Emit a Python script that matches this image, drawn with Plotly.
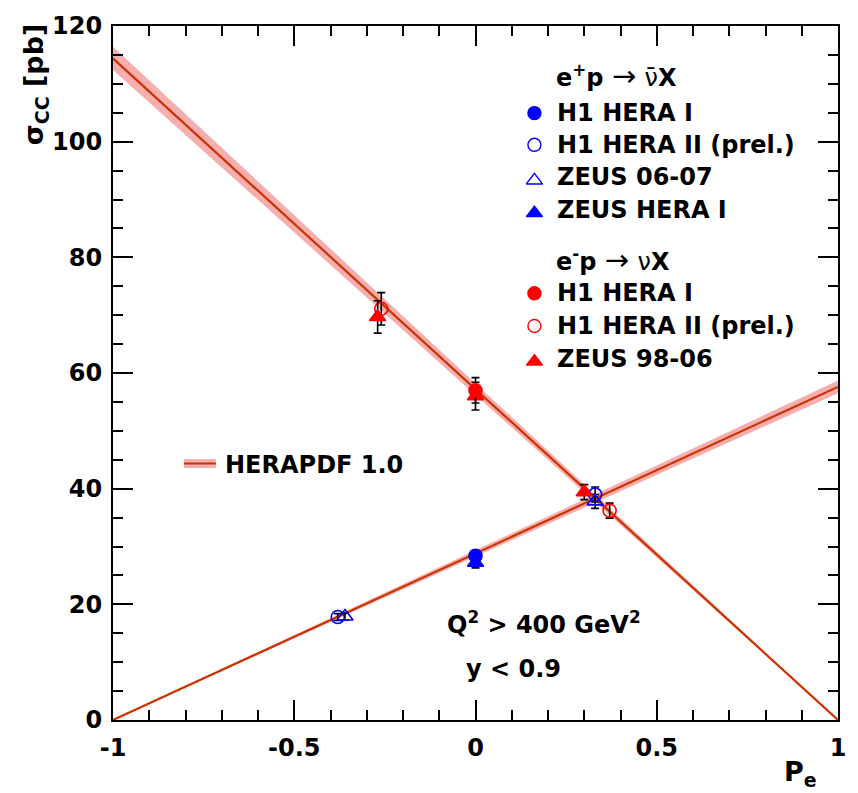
import plotly.graph_objects as go

# ---- HERAPDF 1.0 prediction (straight lines in P_e), end points and band half-widths
pdf_P = [-1.0, 1.0]
pdf_em = [114.4, 0.0]        # e- p -> nu X
pdf_em_err = [2.0, 0.0]
pdf_ep = [0.0, 57.6]         # e+ p -> nubar X
pdf_ep_err = [0.0, 1.1]

# ---- e+ p measurements
ep_h1_1_P, ep_h1_1_s, ep_h1_1_e = [0.0], [28.4], [0.9]
ep_h1_2_P, ep_h1_2_s, ep_h1_2_e = [-0.38, 0.33], [17.8, 39.0], [0.6, 1.3]
ep_zeus_0607_P, ep_zeus_0607_s, ep_zeus_0607_e = [-0.36, 0.33], [17.9, 37.8], [0.6, 1.2]
ep_zeus_1_P, ep_zeus_1_s, ep_zeus_1_e = [0.0], [27.2], [0.9]

# ---- e- p measurements
em_h1_1_P, em_h1_1_s, em_h1_1_e = [0.0], [57.0], [2.2]
em_h1_2_P, em_h1_2_s, em_h1_2_e = [-0.26, 0.37], [71.1, 36.2], [2.8, 1.3]
em_zeus_P, em_zeus_s, em_zeus_e = [-0.27, 0.0, 0.30], [69.7, 56.0, 39.4], [2.8, 2.4, 1.3]

x_ticks = [-1, -0.5, 0, 0.5, 1]
x_ticklabels = ["-1", "-0.5", "0", "0.5", "1"]
y_ticks = [0, 20, 40, 60, 80, 100, 120]

BLUE = "#0000ff"
RED = "#ff0000"
LINE = "#cc3300"
BAND = "rgba(240,120,120,0.6)"
FONT = "DejaVu Sans"

W, H = 858, 793
L, R, T, B = 113, 839, 19, 720


def fx(px):
    return (px - L) / (R - L)


def fy(py):
    return (B - py) / (B - T)


fig = go.Figure()


def band(P, c, e):
    xs = list(P) + list(P)[::-1]
    ys = [v + d for v, d in zip(c, e)] + [v - d for v, d in zip(c, e)][::-1]
    fig.add_trace(go.Scatter(x=xs, y=ys, fill="toself", fillcolor=BAND,
                             line=dict(width=0), mode="lines",
                             hoverinfo="skip", showlegend=False))
    fig.add_trace(go.Scatter(x=P, y=c, mode="lines",
                             line=dict(color=LINE, width=2.2),
                             showlegend=False))


band(pdf_P, pdf_em, pdf_em_err)
band(pdf_P, pdf_ep, pdf_ep_err)


def points(P, s, e, symbol, color, size):
    fig.add_trace(go.Scatter(
        x=P, y=s, mode="markers",
        marker=dict(symbol=symbol, color=color, size=size,
                    line=dict(color=color, width=1.6)),
        error_y=dict(type="data", array=e, color="black",
                     thickness=1.6, width=4),
        showlegend=False))


points(ep_h1_2_P, ep_h1_2_s, ep_h1_2_e, "circle-open", BLUE, 13)
points(ep_zeus_0607_P, ep_zeus_0607_s, ep_zeus_0607_e, "triangle-up-open", BLUE, 14)
points(ep_zeus_1_P, ep_zeus_1_s, ep_zeus_1_e, "triangle-up", BLUE, 14)
points(ep_h1_1_P, ep_h1_1_s, ep_h1_1_e, "circle", BLUE, 13)

points(em_h1_2_P, em_h1_2_s, em_h1_2_e, "circle-open", RED, 13)
points(em_zeus_P, em_zeus_s, em_zeus_e, "triangle-up", RED, 14)
points(em_h1_1_P, em_h1_1_s, em_h1_1_e, "circle", RED, 13)

# ---- legend drawn on an overlay axis spanning the plot area
legend_rows = [
    ("circle", BLUE, 107, "H1 HERA I"),
    ("circle-open", BLUE, 139, "H1 HERA II (prel.)"),
    ("triangle-up-open", BLUE, 172, "ZEUS 06-07"),
    ("triangle-up", BLUE, 205, "ZEUS HERA I"),
    ("circle", RED, 289, "H1 HERA I"),
    ("circle-open", RED, 322, "H1 HERA II (prel.)"),
    ("triangle-up", RED, 355, "ZEUS 98-06"),
]
for sym, col, py, label in legend_rows:
    fig.add_trace(go.Scatter(
        x=[fx(535)], y=[fy(py + (3 if "triangle" in sym else 0))],
        xaxis="x2", yaxis="y2", mode="markers",
        marker=dict(symbol=sym, color=col, size=14 if "triangle" in sym else 13,
                    line=dict(color=col, width=1.4)),
        showlegend=False, hoverinfo="skip"))

# HERAPDF key
fig.add_trace(go.Scatter(x=[fx(184), fx(216)], y=[fy(461), fy(461)],
                         xaxis="x2", yaxis="y2", mode="lines",
                         line=dict(color=BAND, width=9),
                         showlegend=False, hoverinfo="skip"))
fig.add_trace(go.Scatter(x=[fx(184), fx(216)], y=[fy(461), fy(461)],
                         xaxis="x2", yaxis="y2", mode="lines",
                         line=dict(color=LINE, width=2),
                         showlegend=False, hoverinfo="skip"))

ann = []


def text(px, py, s, size=24, xanchor="left", angle=0, yanchor="middle"):
    ann.append(dict(x=fx(px), y=fy(py), xref="paper", yref="paper",
                    text=s, showarrow=False, xanchor=xanchor, yanchor=yanchor,
                    textangle=angle,
                    font=dict(family=FONT, size=size, color="black", weight="bold")))


ARROW = "<span style='font-weight:normal;font-size:29px'>→</span>"
NORM = "<span style='font-weight:normal'>"
text(555, 70, "e<sup>+</sup>p " + ARROW + " " + NORM + "ν\u0304</span>X")
text(555, 255, "e<sup>-</sup>p " + ARROW + " " + NORM + "ν</span>X")
for sym, col, py, label in legend_rows:
    text(556, py, label)
text(223, 462, "HERAPDF 1.0")
text(445, 622, "Q<sup>2</sup> > 400 GeV<sup>2</sup>")
text(464, 668, "y < 0.9")
# axis titles
text(35, 14, "σ<sub>CC</sub> [pb]", size=27, xanchor="center", angle=-90, yanchor="top")
text(820, 774, "P<sub>e</sub>", size=27, xanchor="right")

axis_common = dict(
    showline=True, linewidth=2, linecolor="black", mirror="allticks",
    ticks="inside", ticklen=20, tickwidth=1.6, tickcolor="black",
    showgrid=False, zeroline=False,
    tickfont=dict(family=FONT, size=24, color="black", weight="bold"),
)

fig.update_layout(
    width=W, height=H,
    margin=dict(l=L, r=W - R, t=T, b=H - B),
    paper_bgcolor="white", plot_bgcolor="white",
    xaxis=dict(range=[-1, 1], tickvals=x_ticks, ticktext=x_ticklabels,
               minor=dict(dtick=0.1, tick0=-1, ticklen=10, tickwidth=1.6,
                          ticks="inside", tickcolor="black", showgrid=False),
               ticklabelstandoff=5, **axis_common),
    yaxis=dict(range=[0, 120], tickvals=y_ticks,
               minor=dict(dtick=5, tick0=0, ticklen=10, tickwidth=1.6,
                          ticks="inside", tickcolor="black", showgrid=False),
               ticklabelstandoff=4, **axis_common),
    xaxis2=dict(overlaying="x", range=[0, 1], visible=False, anchor="y2"),
    yaxis2=dict(overlaying="y", range=[0, 1], visible=False, anchor="x2"),
    annotations=ann,
    showlegend=False,
)

fig.write_html("out.html")
